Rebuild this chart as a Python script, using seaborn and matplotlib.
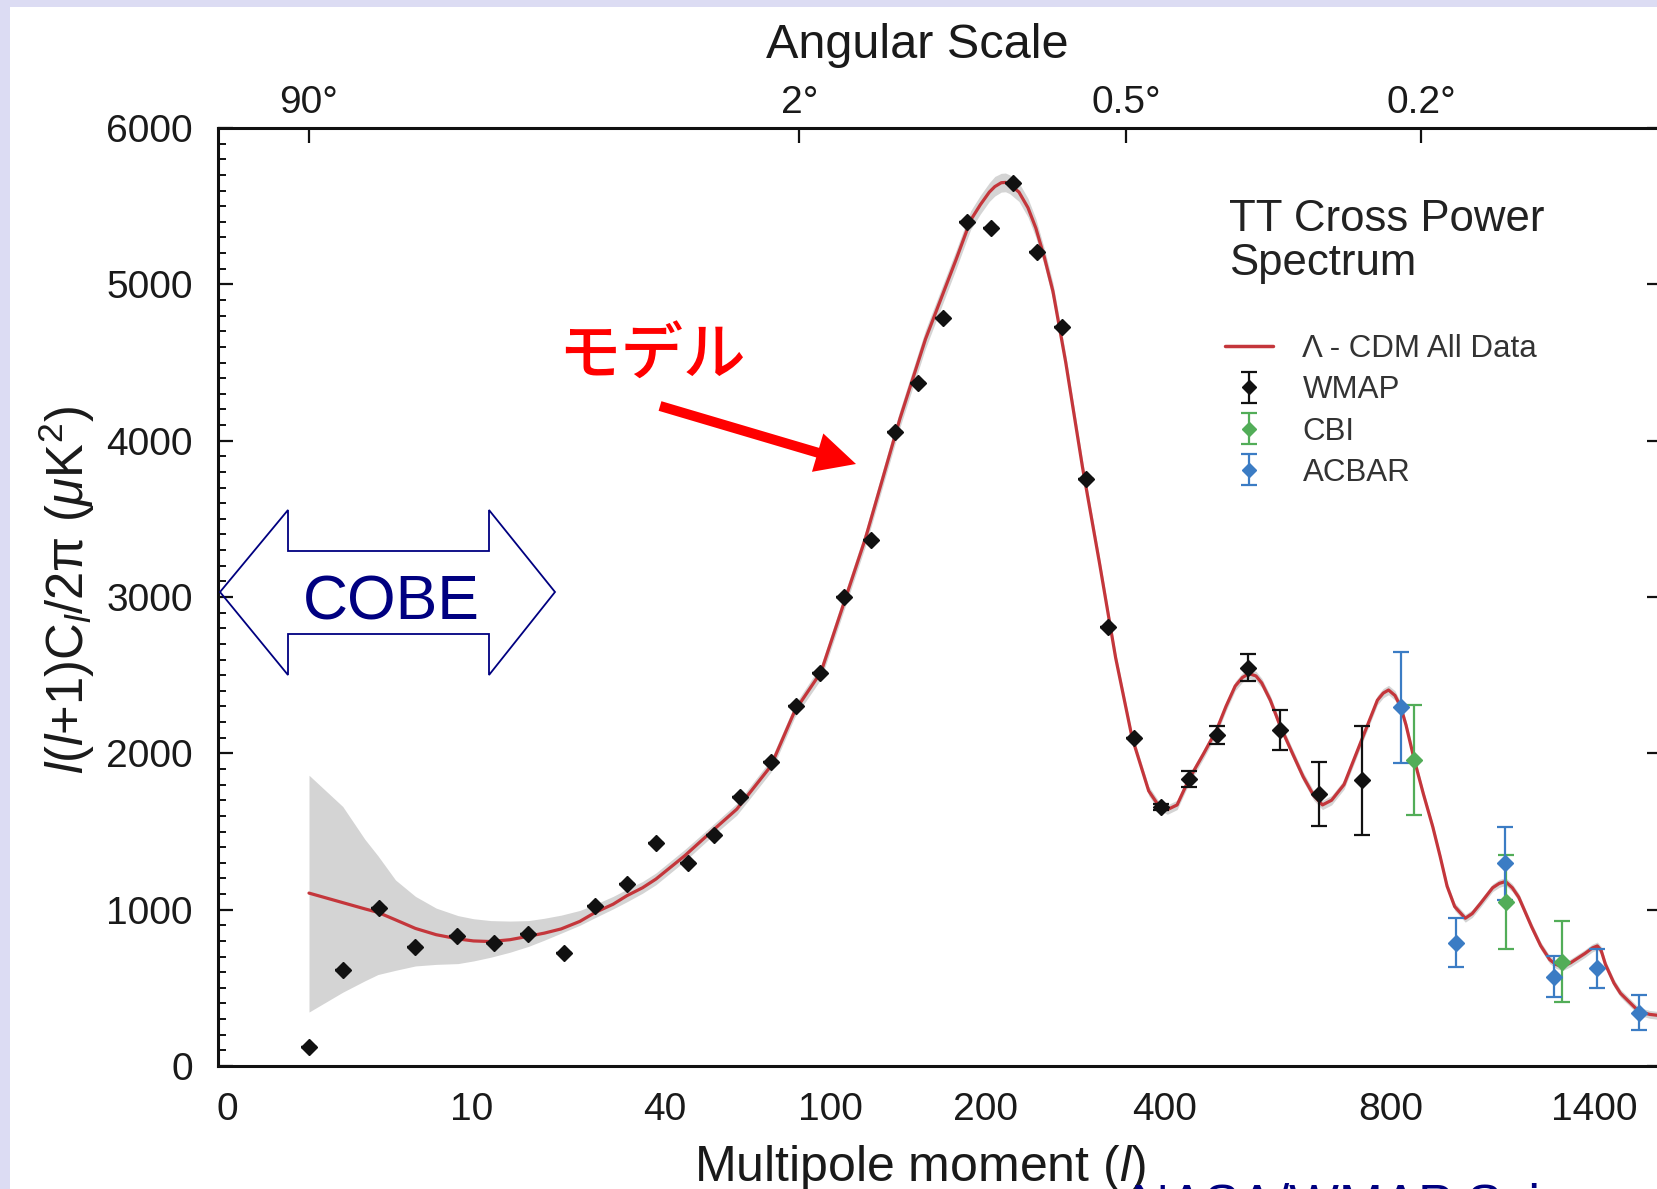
import numpy as np
import pandas as pd
import matplotlib
matplotlib.use("Agg")
import matplotlib.pyplot as plt
import seaborn as sns
from matplotlib.patches import Polygon, Rectangle, FancyArrow
from matplotlib.lines import Line2D
from matplotlib.ticker import FixedLocator, MultipleLocator, NullLocator

# ---------------- data ----------------
model_l = [2, 3.1, 4.0, 4.6, 5.5, 6.65, 8, 9.6, 11, 12.8,
           15, 17.3, 19.5, 22, 25, 27.7, 31, 33.7, 37, 40,
           48, 56, 65, 78, 88, 100, 124, 145, 162, 184,
           195, 203, 211, 216, 222, 226, 230, 239, 248, 256,
           265, 274, 288, 307, 327, 347, 368, 390, 403, 416,
           430, 447, 470, 490, 505, 520, 532, 543, 555, 565,
           580, 597, 620, 640, 660, 677, 695, 720, 757, 790,
           803, 816, 832, 846, 860, 881, 905, 930, 950, 969,
           990, 1020, 1040, 1064, 1100, 1120, 1139, 1160, 1180, 1221,
           1250, 1280, 1300, 1322, 1350, 1400, 1425, 1442, 1455, 1470,
           1500, 1523, 1560, 1590, 1630, 1680]
model_v = [1106, 1045, 1005, 983, 935, 880, 840, 813, 800, 796,
           808, 830, 850, 877, 925, 983, 1035, 1089, 1140, 1196,
           1345, 1494, 1643, 1919, 2270, 2520, 3375, 4140, 4650, 5160,
           5410, 5510, 5590, 5625, 5650, 5652, 5640, 5590, 5490, 5360,
           5170, 4955, 4500, 3830, 3220, 2610, 2100, 1760, 1670, 1640,
           1670, 1830, 2000, 2150, 2300, 2430, 2485, 2510, 2495, 2450,
           2340, 2180, 2000, 1850, 1730, 1670, 1700, 1800, 2090, 2340,
           2385, 2405, 2370, 2300, 2180, 1960, 1740, 1530, 1340, 1150,
           1020, 945, 975, 1040, 1140, 1168, 1180, 1140, 1080, 890,
           770, 680, 650, 635, 660, 720, 755, 768, 740, 650,
           530, 465, 400, 348, 330, 320]
band_lo = [345, 472, 545, 585, 612, 640, 650, 655, 672, 696,
           728, 765, 805, 850, 900, 950, 1005, 1050, 1105, 1160,
           1310, 1460, 1605, 1880, 2230, 2475, 3325, 4085, 4590, 5100,
           5350, 5450, 5530, 5565, 5590, 5592, 5580, 5530, 5430, 5300,
           5115, 4900, 4450, 3785, 3180, 2575, 2070, 1730, 1640, 1610,
           1640, 1800, 1970, 2120, 2270, 2400, 2455, 2480, 2465, 2420,
           2310, 2150, 1970, 1820, 1700, 1640, 1670, 1770, 2060, 2310,
           2355, 2375, 2340, 2270, 2150, 1930, 1715, 1505, 1315, 1125,
           995, 920, 950, 1015, 1115, 1143, 1155, 1115, 1055, 865,
           745, 655, 625, 610, 635, 695, 730, 743, 715, 625,
           505, 440, 375, 323, 305, 295]
band_hi = [1860, 1660, 1450, 1345, 1190, 1085, 1010, 962, 942, 930,
           927, 930, 945, 965, 995, 1035, 1085, 1130, 1180, 1235,
           1385, 1530, 1680, 1960, 2310, 2565, 3425, 4195, 4710, 5220,
           5470, 5570, 5650, 5690, 5710, 5712, 5700, 5650, 5550, 5420,
           5225, 5010, 4550, 3875, 3260, 2645, 2130, 1790, 1700, 1670,
           1700, 1860, 2030, 2180, 2330, 2460, 2515, 2540, 2525, 2480,
           2370, 2210, 2030, 1880, 1760, 1700, 1730, 1830, 2120, 2370,
           2415, 2435, 2400, 2330, 2210, 1990, 1765, 1555, 1365, 1175,
           1045, 970, 1000, 1065, 1165, 1193, 1205, 1165, 1105, 915,
           795, 705, 675, 660, 685, 745, 780, 793, 765, 675,
           555, 490, 425, 373, 355, 345]

wmap_l = [2, 3.1, 4.65, 6.6, 9.5, 13.1, 17.3, 22.5, 27.7, 33.7, 40, 49, 57, 66, 78,
          88.5, 99.5, 112, 127, 141.6, 157, 174.6, 192, 212.6, 233.5, 257.5, 284, 311,
          338, 371, 407, 447, 490, 541, 597, 671, 757]
wmap_v = [121, 611, 1009, 764, 830, 785, 843, 723, 1026, 1164, 1426, 1298, 1477, 1721,
          1945, 2300, 2516, 2998, 3362, 4056, 4369, 4782, 5396, 5363, 5648, 5204, 4730,
          3752, 2805, 2100, 1659, 1834, 2117, 2548, 2149, 1740, 1829]
wmap_err = [0, 0, 0, 0, 0, 0, 0, 0, 0, 0, 0, 0, 0, 0, 0, 0, 0, 0, 0, 0, 0, 0, 0, 0, 0,
            0, 0, 0, 0, 0, 20, 50, 57, 87, 128, 205, 349]

cbi_l = [881, 1141, 1322]
cbi_v = [1957, 1051, 667]
cbi_err = [352, 301, 258]

acbar_l = [846, 995, 1139, 1295, 1442, 1590]
acbar_v = [2294, 789, 1297, 571, 625, 341]
acbar_err = [355, 157, 232, 130, 126, 110]

xtick_vals = [0, 10, 40, 100, 200, 400, 800, 1400]
xtick_labels = ["0", "10", "40", "100", "200", "400", "800", "1400"]
top_tick_l = [2, 90, 360, 900]
top_tick_labels = ["90°", "2°", "0.5°", "0.2°"]
legend_labels = ["Λ - CDM All Data", "WMAP", "CBI", "ACBAR"]

# ---------------- axis scale (hybrid, as in the original figure) ----------------
_SL = np.array([-100, 0, 2, 10, 40, 100, 200, 400, 800, 1400, 1700, 3000], float)
_SP = np.array([-603, 0, 91, 245, 438, 603, 759, 938, 1164, 1367, 1450.4, 1721], float)
_SU = np.sign(_SL) * np.abs(_SL) ** 0.35


def fwd(l):
    l = np.asarray(l, float)
    u = np.sign(l) * np.abs(l) ** 0.35
    return np.interp(u, _SU, _SP)


def inv(p):
    p = np.asarray(p, float)
    u = np.interp(p, _SP, _SU)
    return np.sign(u) * np.abs(u) ** (1 / 0.35)


# ---------------- style ----------------
sns.set_theme(style="white")
plt.rcParams["font.family"] = ["Liberation Sans", "Noto Sans CJK JP", "DejaVu Sans"]
plt.rcParams.update({
    "mathtext.fontset": "custom",
    "mathtext.rm": "Liberation Sans",
    "mathtext.it": "Liberation Sans:italic",
    "mathtext.bf": "Liberation Sans:bold",
})

RED = "#c4363b"
BLACK = "#111111"
GREEN = "#52ad58"
BLUE = "#3b7cc4"
NAVY = "#000080"
TXT = "#1a1a1a"

W, H = 1658, 1189
fig = plt.figure(figsize=(W / 100, H / 100), dpi=100, facecolor="#dcdcf3")
fig.add_artist(Rectangle((10 / W, 0), 1, (H - 7) / H, transform=fig.transFigure,
                         facecolor="white", edgecolor="none", zorder=-5))

AX_L, AX_R, AX_T, AX_B = 218, 1662, 128, 1066
ax = fig.add_axes([AX_L / W, 1 - AX_B / H, (AX_R - AX_L) / W, (AX_B - AX_T) / H])
ax.set_facecolor("white")

# band + model curve
ax.fill_between(model_l, band_lo, band_hi, color="#d4d4d4", lw=0, zorder=1)
mdf = pd.DataFrame({"l": model_l, "v": model_v})
sns.lineplot(data=mdf, x="l", y="v", ax=ax, color=RED, linewidth=2.3, sort=False,
             estimator=None, zorder=3, legend=False)
for ln in ax.get_lines():
    ln.set_solid_joinstyle("round")

# data with error bars
eb_kw = dict(fmt="D", ms=8.3, elinewidth=1.6, capsize=5.5, capthick=1.6, zorder=5)
eb_w = ax.errorbar(wmap_l, wmap_v, yerr=wmap_err, color=BLACK, **eb_kw)
eb_c = ax.errorbar(cbi_l, cbi_v, yerr=cbi_err, color=GREEN, **eb_kw)
eb_a = ax.errorbar(acbar_l, acbar_v, yerr=acbar_err, color=BLUE, **eb_kw)

# scales & limits
ax.set_xscale("function", functions=(fwd, inv))
XMAX = float(inv(AX_R - AX_L))
ax.set_xlim(0, XMAX)
ax.set_ylim(0, 6000)

# bottom axis
ax.xaxis.set_major_locator(FixedLocator(xtick_vals))
ax.set_xticklabels(xtick_labels)
ax.xaxis.set_minor_locator(NullLocator())
ax.tick_params(axis="x", which="both", bottom=True, top=False, length=0, pad=19,
               labelsize=28, labelcolor=TXT)

# y axis
ax.yaxis.set_major_locator(MultipleLocator(1000))
ax.yaxis.set_minor_locator(MultipleLocator(100))
ax.tick_params(axis="y", which="major", direction="in", length=11, width=1.6,
               left=True, right=True, labelsize=28, pad=18, labelcolor=TXT, color=BLACK)
ax.tick_params(axis="y", which="minor", direction="in", length=6, width=1.4,
               left=True, right=False, color=BLACK)

for s in ax.spines.values():
    s.set_visible(True)
    s.set_linewidth(2.2)
    s.set_color(BLACK)

ax.set_xlabel(r"Multipole moment ($l$)", fontsize=36, color=TXT)
ax.xaxis.set_label_coords((920 - AX_L) / (AX_R - AX_L), (AX_B - 1143) / (AX_B - AX_T))
ax.set_ylabel(r"$l$($l$+1)C$_l$/2π ($\mu$K$^2$)", fontsize=36.5, color=TXT)
ax.yaxis.set_label_coords((97 - AX_L) / (AX_R - AX_L), (AX_B - 590) / (AX_B - AX_T))

# top (angular scale) axis
ax2 = ax.twiny()
ax2.set_xscale("function", functions=(fwd, inv))
ax2.set_xlim(0, XMAX)
ax2.xaxis.set_major_locator(FixedLocator(top_tick_l))
ax2.set_xticklabels(top_tick_labels)
ax2.xaxis.set_minor_locator(NullLocator())
ax2.tick_params(axis="x", which="major", direction="in", length=11, width=1.6,
                top=True, bottom=False, labeltop=True, labelbottom=False,
                labelsize=28, pad=5, labelcolor=TXT, color=BLACK)
for s in ax2.spines.values():
    s.set_visible(False)
ax2.set_xlabel("Angular Scale", fontsize=35, color=TXT)
ax2.xaxis.set_label_coords((917 - AX_L) / (AX_R - AX_L), (AX_B - 58) / (AX_B - AX_T))

# legend
h_line = Line2D([], [], color=RED, lw=2.5)
leg = ax.legend([h_line, eb_w, eb_c, eb_a], legend_labels, loc="upper left",
                bbox_to_anchor=(1225 / W, 1 - 334 / H), bbox_transform=fig.transFigure,
                frameon=False, fontsize=22.5, handlelength=1.55, handletextpad=0.93,
                labelspacing=0.36, borderpad=0, borderaxespad=0, markerscale=0.8)
for t in leg.get_texts():
    t.set_color("#333333")

# shift bottom tick labels like in the reference
off = matplotlib.transforms.ScaledTranslation(9 / 100, 0, fig.dpi_scale_trans)
for lab in ax.get_xticklabels():
    lab.set_transform(lab.get_transform() + off)

# ---------------- overlay annotations (pixel coordinates) ----------------
ov = fig.add_axes([0, 0, 1, 1], zorder=20)
ov.set_xlim(0, W)
ov.set_ylim(H, 0)
ov.axis("off")

ov.text(1229, 231, "TT Cross Power", fontsize=31.5, color="#222222", ha="left", va="baseline")
ov.text(1229, 275, "Spectrum", fontsize=31.5, color="#222222", ha="left", va="baseline")

cobe = [(220, 592), (288, 510), (288, 551), (489, 551), (489, 510), (555, 592),
        (489, 675), (489, 634), (288, 634), (288, 675)]
ov.add_patch(Polygon(cobe, closed=True, facecolor="none", edgecolor=NAVY, lw=1.3))
ov.text(391, 619, "COBE", fontsize=45, color=NAVY, ha="center", va="baseline")

ov.text(652, 357, "モデル", fontsize=45, color="#ff0000", ha="center", va="center",
        family=["Noto Sans CJK JP", "DejaVu Sans"], weight="medium")
ov.add_patch(FancyArrow(660, 406, 196, 58, width=10, head_width=40, head_length=40,
                        length_includes_head=True, color="#ff0000", lw=0))

ov.text(1131, 1221, "NASA/WMAP Science Team", fontsize=38, color=NAVY, ha="left",
        va="baseline")

fig.savefig("out.png", dpi=100, facecolor=fig.get_facecolor())
